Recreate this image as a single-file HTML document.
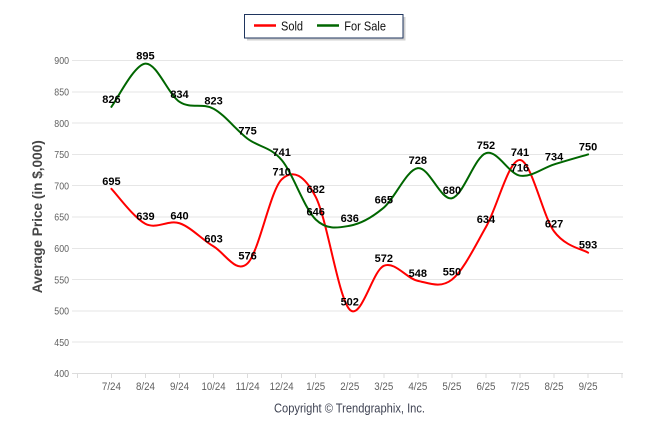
<!DOCTYPE html>
<html><head><meta charset="utf-8"><style>
html,body{margin:0;padding:0;background:#fff;}
svg{display:block;font-family:"Liberation Sans",Arial,sans-serif;}
</style></head><body>
<svg width="646" height="434" viewBox="0 0 646 434" xmlns="http://www.w3.org/2000/svg">
<rect width="646" height="434" fill="#fff"/>
<!-- gridlines -->
<g stroke="#e6e6e6" stroke-width="1" shape-rendering="crispEdges">
<line x1="72" x2="623" y1="60.5" y2="60.5"/>
<line x1="72" x2="623" y1="91.8" y2="91.8"/>
<line x1="72" x2="623" y1="123.1" y2="123.1"/>
<line x1="72" x2="623" y1="154.4" y2="154.4"/>
<line x1="72" x2="623" y1="185.7" y2="185.7"/>
<line x1="72" x2="623" y1="217" y2="217"/>
<line x1="72" x2="623" y1="248.3" y2="248.3"/>
<line x1="72" x2="623" y1="279.6" y2="279.6"/>
<line x1="72" x2="623" y1="310.9" y2="310.9"/>
<line x1="72" x2="623" y1="342.2" y2="342.2"/>
<line x1="72" x2="623" y1="373.5" y2="373.5" stroke="#dcdcdc"/>
</g>
<g stroke="#dcdcdc" stroke-width="1" shape-rendering="crispEdges">
<line x1="77.35" x2="77.35" y1="373.5" y2="378"/>
<line x1="111.4" x2="111.4" y1="373.5" y2="378"/>
<line x1="145.45" x2="145.45" y1="373.5" y2="378"/>
<line x1="179.5" x2="179.5" y1="373.5" y2="378"/>
<line x1="213.55" x2="213.55" y1="373.5" y2="378"/>
<line x1="247.6" x2="247.6" y1="373.5" y2="378"/>
<line x1="281.65" x2="281.65" y1="373.5" y2="378"/>
<line x1="315.7" x2="315.7" y1="373.5" y2="378"/>
<line x1="349.75" x2="349.75" y1="373.5" y2="378"/>
<line x1="383.8" x2="383.8" y1="373.5" y2="378"/>
<line x1="417.85" x2="417.85" y1="373.5" y2="378"/>
<line x1="451.9" x2="451.9" y1="373.5" y2="378"/>
<line x1="485.95" x2="485.95" y1="373.5" y2="378"/>
<line x1="520" x2="520" y1="373.5" y2="378"/>
<line x1="554.05" x2="554.05" y1="373.5" y2="378"/>
<line x1="588.1" x2="588.1" y1="373.5" y2="378"/>
<line x1="622.15" x2="622.15" y1="373.5" y2="378"/>
</g>
<!-- y labels -->
<g fill="#5f5f5f" font-size="10.5">
<text x="54.3" y="64.2" textLength="14.7" lengthAdjust="spacingAndGlyphs">900</text>
<text x="54.3" y="95.5" textLength="14.7" lengthAdjust="spacingAndGlyphs">850</text>
<text x="54.3" y="126.8" textLength="14.7" lengthAdjust="spacingAndGlyphs">800</text>
<text x="54.3" y="158.1" textLength="14.7" lengthAdjust="spacingAndGlyphs">750</text>
<text x="54.3" y="189.4" textLength="14.7" lengthAdjust="spacingAndGlyphs">700</text>
<text x="54.3" y="220.7" textLength="14.7" lengthAdjust="spacingAndGlyphs">650</text>
<text x="54.3" y="252" textLength="14.7" lengthAdjust="spacingAndGlyphs">600</text>
<text x="54.3" y="283.3" textLength="14.7" lengthAdjust="spacingAndGlyphs">550</text>
<text x="54.3" y="314.6" textLength="14.7" lengthAdjust="spacingAndGlyphs">500</text>
<text x="54.3" y="345.9" textLength="14.7" lengthAdjust="spacingAndGlyphs">450</text>
<text x="54.3" y="377.2" textLength="14.7" lengthAdjust="spacingAndGlyphs">400</text>
</g>
<!-- x labels -->
<g fill="#5f5f5f" font-size="11">
<text x="101.9" y="390" textLength="19" lengthAdjust="spacingAndGlyphs">7/24</text>
<text x="135.95" y="390" textLength="19" lengthAdjust="spacingAndGlyphs">8/24</text>
<text x="170" y="390" textLength="19" lengthAdjust="spacingAndGlyphs">9/24</text>
<text x="201.55" y="390" textLength="24" lengthAdjust="spacingAndGlyphs">10/24</text>
<text x="235.6" y="390" textLength="24" lengthAdjust="spacingAndGlyphs">11/24</text>
<text x="269.65" y="390" textLength="24" lengthAdjust="spacingAndGlyphs">12/24</text>
<text x="306.2" y="390" textLength="19" lengthAdjust="spacingAndGlyphs">1/25</text>
<text x="340.25" y="390" textLength="19" lengthAdjust="spacingAndGlyphs">2/25</text>
<text x="374.3" y="390" textLength="19" lengthAdjust="spacingAndGlyphs">3/25</text>
<text x="408.35" y="390" textLength="19" lengthAdjust="spacingAndGlyphs">4/25</text>
<text x="442.4" y="390" textLength="19" lengthAdjust="spacingAndGlyphs">5/25</text>
<text x="476.45" y="390" textLength="19" lengthAdjust="spacingAndGlyphs">6/25</text>
<text x="510.5" y="390" textLength="19" lengthAdjust="spacingAndGlyphs">7/25</text>
<text x="544.55" y="390" textLength="19" lengthAdjust="spacingAndGlyphs">8/25</text>
<text x="578.6" y="390" textLength="19" lengthAdjust="spacingAndGlyphs">9/25</text>
</g>
<!-- y title -->
<text transform="translate(42,216.7) rotate(-90)" text-anchor="middle" font-size="13.5" font-weight="bold" fill="#464646" textLength="153" lengthAdjust="spacingAndGlyphs">Average Price (in $,000)</text>
<!-- copyright -->
<text x="274" y="412.5" font-size="13" fill="#3e4252" textLength="151" lengthAdjust="spacingAndGlyphs">Copyright © Trendgraphix, Inc.</text>
<!-- series -->
<path fill="none" stroke="#ff0000" stroke-width="2" stroke-linejoin="round" stroke-linecap="round" d="M111.4,188.83 C117.08,194.67 134.1,218.15 145.45,223.89 C156.8,229.63 168.15,219.5 179.5,223.26 C190.85,227.02 202.2,239.74 213.55,246.42 C224.9,253.1 236.25,274.48 247.6,263.32 C258.95,252.16 270.3,190.5 281.65,179.44 C293,168.38 304.35,175.27 315.7,196.97 C327.05,218.67 338.4,298.17 349.75,309.65 C361.1,321.13 372.45,270.63 383.8,265.83 C395.15,261.03 406.5,278.55 417.85,280.85 C429.2,283.15 440.55,288.57 451.9,279.6 C463.25,270.63 474.6,246.95 485.95,227.02 C497.3,207.09 508.65,159.3 520,160.03 C531.35,160.76 542.7,215.96 554.05,231.4 C565.4,246.84 582.43,249.13 588.1,252.68"/>
<path fill="none" stroke="#006600" stroke-width="2" stroke-linejoin="round" stroke-linecap="round" d="M111.4,106.82 C117.08,99.62 134.1,64.46 145.45,63.63 C156.8,62.8 168.15,94.31 179.5,101.82 C190.85,109.33 202.2,102.54 213.55,108.7 C224.9,114.86 236.25,130.19 247.6,138.75 C258.95,147.31 270.3,146.57 281.65,160.03 C293,173.49 304.35,208.54 315.7,219.5 C327.05,230.46 338.4,227.74 349.75,225.76 C361.1,223.78 372.45,217.21 383.8,207.61 C395.15,198.01 406.5,169.74 417.85,168.17 C429.2,166.6 440.55,200.72 451.9,198.22 C463.25,195.72 474.6,156.91 485.95,153.15 C497.3,149.39 508.65,173.8 520,175.68 C531.35,177.56 542.7,167.97 554.05,164.42 C565.4,160.87 582.43,156.07 588.1,154.4"/>
<!-- data labels -->
<g font-size="11" font-weight="bold" fill="#000" text-anchor="middle">
<text x="111.4" y="184.8">695</text>
<text x="145.45" y="219.9">639</text>
<text x="179.5" y="219.3">640</text>
<text x="213.55" y="242.4">603</text>
<text x="247.6" y="259.3">576</text>
<text x="281.65" y="175.4">710</text>
<text x="315.7" y="193">682</text>
<text x="349.75" y="305.6">502</text>
<text x="383.8" y="261.8">572</text>
<text x="417.85" y="276.9">548</text>
<text x="451.9" y="275.6">550</text>
<text x="485.95" y="223">634</text>
<text x="520" y="156">741</text>
<text x="554.05" y="227.4">627</text>
<text x="588.1" y="248.7">593</text>
<text x="111.4" y="102.8">826</text>
<text x="145.45" y="59.6">895</text>
<text x="179.5" y="97.8">834</text>
<text x="213.55" y="104.7">823</text>
<text x="247.6" y="134.7">775</text>
<text x="281.65" y="156">741</text>
<text x="315.7" y="215.5">646</text>
<text x="349.75" y="221.8">636</text>
<text x="383.8" y="203.6">665</text>
<text x="417.85" y="164.2">728</text>
<text x="451.9" y="194.2">680</text>
<text x="485.95" y="149.2">752</text>
<text x="520" y="171.7">716</text>
<text x="554.05" y="160.4">734</text>
<text x="588.1" y="150.4">750</text>
</g>
<!-- legend -->
<rect x="247" y="17" width="158.5" height="23.5" fill="#bdbdbd" opacity="0.7"/>
<rect x="244.5" y="14.5" width="158.5" height="23.5" fill="#fff" stroke="#1f355e" stroke-width="1"/>
<line x1="254" x2="276" y1="25.5" y2="25.5" stroke="#ff0000" stroke-width="2.5"/>
<text x="281" y="30.3" font-size="13" fill="#111" textLength="22" lengthAdjust="spacingAndGlyphs">Sold</text>
<line x1="317" x2="339" y1="25.5" y2="25.5" stroke="#006600" stroke-width="2.5"/>
<text x="344.3" y="30.3" font-size="13" fill="#111" textLength="41.7" lengthAdjust="spacingAndGlyphs">For Sale</text>
</svg>
</body></html>
